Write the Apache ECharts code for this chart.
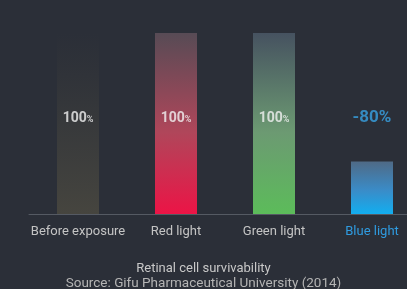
<!DOCTYPE html>
<html>
<head>
<meta charset="utf-8">
<script src="https://cdn.jsdelivr.net/npm/echarts@6/dist/echarts.min.js"></script>
<style>
html,body{margin:0;padding:0;background:#2b2f38;}
#chart{width:407px;height:289px;}
</style>
</head>
<body>
<div id="chart"></div>
<script>
// 视网膜细胞存活率
var categories = ['Before exposure', 'Red light', 'Green light', 'Blue light'];
var survival = [100, 100, 100, 29];
var labelTexts = ['100%', '100%', '100%', '-80%'];
var labelLevel = [53, 53, 53, 53];

var topColors = ['rgba(60,60,58,0.0)', '#574b55', '#465260', '#4f6a86'];
var midColors = ['rgba(66,66,62,0.6)', '#b0465a', '#6c9a72', '#3a8cc8'];
var bottomColors = ['#46453f', '#ec1446', '#5cbc5a', '#12aef0'];

var myChart = echarts.init(document.getElementById('chart'));

var barData = survival.map(function(v, i){
    return {
        value: v,
        itemStyle: {
            color: new echarts.graphic.LinearGradient(0, 0, 0, 1, [
                {offset: 0, color: topColors[i]},
                {offset: 0.55, color: midColors[i]},
                {offset: 1, color: bottomColors[i]}
            ])
        }
    };
});

var labelData = labelLevel.map(function(v, i){
    var last = i == 3;
    var num = labelTexts[i].slice(0, -1);
    if (last) {
        return {
            value: v,
            label: {
                show: true,
                position: 'inside',
                formatter: labelTexts[i],
                color: '#38a2e4',
                fontSize: 17,
                fontWeight: 'bold',
                fontFamily: 'Roboto'
            }
        };
    }
    return {
        value: v,
        label: {
            show: true,
            position: 'inside',
            formatter: '{num|' + num + '}{pct|%}',
            rich: {
                num: {color: '#f2f2f2', fontSize: 14, fontWeight: 'bold', fontFamily: 'Roboto'},
                pct: {color: '#f2f2f2', fontSize: 9, fontWeight: 'bold', fontFamily: 'Roboto', padding: [4, 0, 0, 0]}
            }
        }
    };
});

var option = {
    backgroundColor: '#2b2f38',
    animation: false,
    title: {
        text: 'Retinal cell survivability',
        subtext: 'Source: Gifu Pharmaceutical University (2014)',
        left: 'center',
        top: 257,
        itemGap: 2,
        textStyle: {color: '#c8c8c8', fontSize: 13, fontWeight: 'normal', fontFamily: 'Roboto'},
        subtextStyle: {color: '#b4b4b4', fontSize: 13.5, fontFamily: 'Roboto'}
    },
    grid: {left: 29, width: 392, top: 33, bottom: 75, outerBoundsMode: 'none', containLabel: false},
    xAxis: {
        type: 'category',
        data: categories,
        axisLine: {lineStyle: {color: '#555a63', width: 1}},
        axisTick: {show: false},
        axisLabel: {
            interval: 0,
            hideOverlap: false,
            margin: 11,
            fontSize: 13,
            fontFamily: 'Roboto',
            color: function(v, i){ return i == 3 ? '#2f9be0' : '#c4c4c4'; }
        }
    },
    yAxis: {
        type: 'value',
        min: 0,
        max: 100,
        show: false
    },
    series: [
        {
            type: 'bar',
            data: barData,
            barWidth: 42
        },
        {
            type: 'scatter',
            data: labelData,
            symbolSize: 0,
            clip: false,
            silent: true
        }
    ]
};
myChart.setOption(option);
</script>
</body>
</html>
